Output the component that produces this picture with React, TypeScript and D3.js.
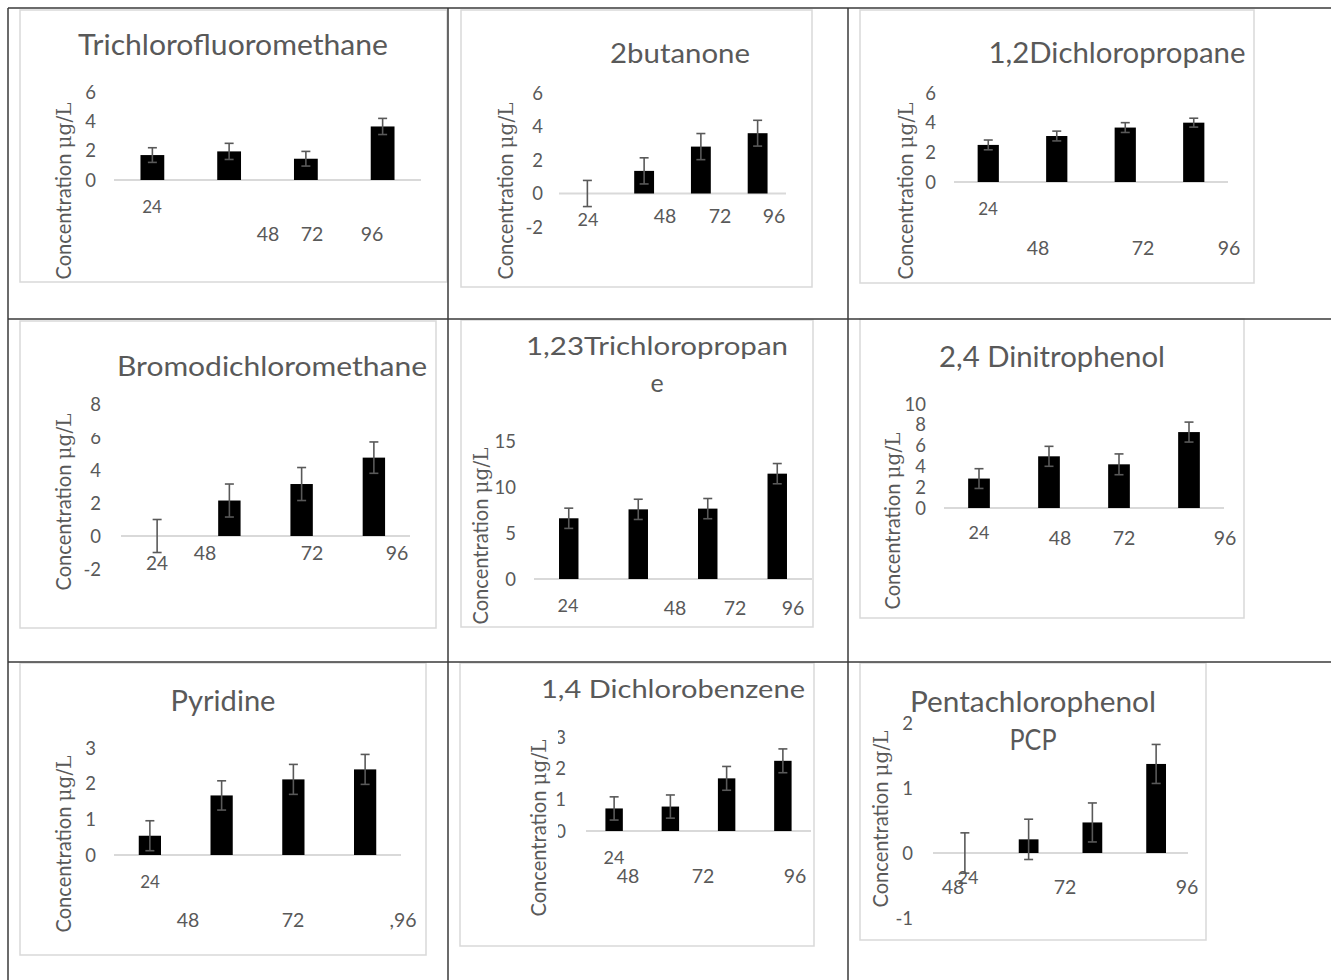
import React from "react";
import * as d3 from "d3";

// sampling times (h)
const hours = ["24", "48", "72", "96"];
const pyridineLabels = ["24", "48", "72", ",96"];

// mean concentrations and error bars
const trichlorofluoromethane = [1.7, 1.95, 1.45, 3.65];
const trichlorofluoromethaneErr = [0.5, 0.55, 0.5, 0.55];
const butanone = [0, 1.35, 2.8, 3.6];
const butanoneErr = [0.78, 0.78, 0.78, 0.77];
const dichloropropane = [2.5, 3.1, 3.67, 4.0];
const dichloropropaneErr = [0.33, 0.33, 0.33, 0.3];
const bromodichloromethane = [0, 2.15, 3.15, 4.75];
const bromodichloromethaneErr = [1.0, 1.0, 1.0, 0.95];
const trichloropropane = [6.6, 7.57, 7.65, 11.45];
const trichloropropaneErr = [1.1, 1.1, 1.1, 1.1];
const dinitrophenol = [2.83, 4.97, 4.2, 7.3];
const dinitrophenolErr = [0.95, 0.96, 1.0, 0.96];
const pyridine = [0.54, 1.67, 2.12, 2.4];
const pyridineErr = [0.42, 0.41, 0.42, 0.42];
const dichlorobenzene = [0.72, 0.78, 1.68, 2.24];
const dichlorobenzeneErr = [0.37, 0.37, 0.38, 0.38];
const pentachlorophenol = [0, 0.21, 0.47, 1.37];
const pentachlorophenolErr = [0.31, 0.31, 0.3, 0.3];

// y tick labels
const ticks0to6 = [0, 2, 4, 6];
const ticksNeg2to6 = [-2, 0, 2, 4, 6];
const ticksNeg2to8 = [-2, 0, 2, 4, 6, 8];
const ticks0to15 = [0, 5, 10, 15];
const ticks0to10 = [0, 2, 4, 6, 8, 10];
const ticks0to3 = [0, 1, 2, 3];
const ticksNeg1to2 = [-1, 0, 1, 2];

const GREY = "#595959";
const FONT = "Lato, 'Open Sans', sans-serif";

// layout of each panel on the page (frame, title, plot area, labels)
const panels = [
  {
    title: ["Trichlorofluoromethane"], tx: 233, ty: 55, tSize: 28, tLen: [310],
    frame: [20, 10, 427, 272], values: trichlorofluoromethane, errs: trichlorofluoromethaneErr,
    ticks: ticks0to6, yRange: [180, 92], xRange: [114, 421], pad: 0.69, tickX: 96,
    yTitle: [63, 191], labels: hours,
    labelPos: [[152, 207, 17], [268, 234, 19.5], [312, 234, 19.5], [372, 234, 19.5]],
  },
  {
    title: ["2butanone"], tx: 680, ty: 63, tSize: 27, tLen: [140],
    frame: [461, 10, 351, 277], values: butanone, errs: butanoneErr,
    ticks: ticksNeg2to6, yRange: [227, 93], xRange: [559, 786], pad: 0.65, tickX: 543,
    yTitle: [505, 191], labels: hours,
    labelPos: [[588, 220, 18], [665, 216, 19.5], [720, 216, 19.5], [774, 216, 19.5]],
  },
  {
    title: ["1,2Dichloropropane"], tx: 1117, ty: 63, tSize: 28, tLen: [257],
    frame: [860, 10, 394, 273], values: dichloropropane, errs: dichloropropaneErr,
    ticks: ticks0to6, yRange: [182, 93], xRange: [954, 1228], pad: 0.69, tickX: 936,
    yTitle: [905, 191], labels: hours,
    labelPos: [[988, 209, 17], [1038, 248, 19.5], [1143, 248, 19.5], [1229, 248, 19.5]],
  },
  {
    title: ["Bromodichloromethane"], tx: 272, ty: 376, tSize: 26, tLen: [310],
    frame: [20, 321, 416, 307], values: bromodichloromethane, errs: bromodichloromethaneErr,
    ticks: ticksNeg2to8, yRange: [569, 404], xRange: [121, 410], pad: 0.69, tickX: 101,
    yTitle: [63, 502], labels: hours,
    labelPos: [[157, 563, 19], [205, 553, 19.5], [312, 553, 19.5], [397, 553, 19.5]],
    covers: [[84, 422, 20, 11]],
  },
  {
    title: ["1,23Trichloropropan", "e"], tx: 657, ty: 355, tSize: 25, tLen: [262], lineGap: 37,
    frame: [461, 320, 352, 307], values: trichloropropane, errs: trichloropropaneErr,
    ticks: ticks0to15, yRange: [579, 441], xRange: [534, 812], pad: 0.72, tickX: 516,
    yTitle: [480, 536], labels: hours,
    labelPos: [[568, 606, 18], [675, 608, 19.5], [735, 608, 19.5], [793, 608, 19.5]],
  },
  {
    title: ["2,4 Dinitrophenol"], tx: 1052, ty: 367, tSize: 28, tLen: [226],
    frame: [860, 319, 384, 299], values: dinitrophenol, errs: dinitrophenolErr,
    ticks: ticks0to10, yRange: [508, 404], xRange: [944, 1224], pad: 0.69, tickX: 926,
    yTitle: [892, 521], labels: hours,
    labelPos: [[979, 533, 18], [1060, 538, 19.5], [1124, 538, 19.5], [1225, 538, 19.5]],
  },
  {
    title: ["Pyridine"], tx: 223, ty: 711, tSize: 28, tLen: [105],
    frame: [20, 663, 406, 292], values: pyridine, errs: pyridineErr,
    ticks: ticks0to3, yRange: [855, 748], xRange: [114, 401], pad: 0.69, tickX: 96,
    yTitle: [63, 844], labels: pyridineLabels,
    labelPos: [[150, 882, 17], [188, 920, 19.5], [293, 920, 19.5], [403, 920, 19.5]],
  },
  {
    title: ["1,4 Dichlorobenzene"], tx: 673, ty: 698, tSize: 25, tLen: [264],
    frame: [460, 663, 354, 283], values: dichlorobenzene, errs: dichlorobenzeneErr,
    ticks: ticks0to3, yRange: [831, 737], xRange: [586, 811], pad: 0.69, tickX: 566,
    yTitle: [538, 828], labels: hours,
    labelPos: [[614, 858, 18], [628, 876, 19.5], [703, 876, 19.5], [795, 876, 19.5]],
    covers: [[549, 726, 9, 22], [549, 820, 9, 22]],
  },
  {
    title: ["Pentachlorophenol", "PCP"], tx: 1033, ty: 712, tSize: 28, tLen: [246, 47], lineGap: 38,
    frame: [860, 663, 346, 277], values: pentachlorophenol, errs: pentachlorophenolErr,
    ticks: ticksNeg1to2, yRange: [918, 723], xRange: [933, 1188], pad: 0.69, tickX: 913,
    yTitle: [880, 819], labels: hours,
    labelPos: [[968, 878, 18], [953, 887, 19.5], [1065, 887, 19.5], [1187, 887, 19.5]],
  },
];

function Panel({ p }) {
  const y = d3
    .scaleLinear()
    .domain([p.ticks[0], p.ticks[p.ticks.length - 1]])
    .range(p.yRange);
  const x = d3
    .scaleBand()
    .domain(hours)
    .range(p.xRange)
    .paddingInner(p.pad)
    .paddingOuter(p.pad / 2);
  const bw = x.bandwidth();
  const capW = 4.5;
  const [fx, fy, fw, fh] = p.frame;

  return (
    <g>
      <rect x={fx} y={fy} width={fw} height={fh} fill="#fff" stroke="#d9d9d9" strokeWidth={1.5} />

      {/* title */}
      {p.title.map((t, i) => (
        <text
          key={t}
          x={p.tx}
          y={p.ty + i * (p.lineGap || 0)}
          textAnchor="middle"
          fontSize={p.tSize}
          fill={GREY}
          fontFamily={FONT}
          textLength={p.tLen[i]}
          lengthAdjust="spacingAndGlyphs"
        >
          {t}
        </text>
      ))}

      {/* y tick labels */}
      {p.ticks.map((t) => (
        <text
          key={t}
          x={p.tickX}
          y={y(t)}
          dy="0.36em"
          textAnchor="end"
          fontSize={18.5}
          fill={GREY}
          fontFamily={FONT}
        >
          {t}
        </text>
      ))}

      {/* bits of the scan where labels were cut off */}
      {(p.covers || []).map((c, i) => (
        <rect key={"cv" + i} x={c[0]} y={c[1]} width={c[2]} height={c[3]} fill="#fff" />
      ))}

      {/* y axis title */}
      <text
        transform={`translate(${p.yTitle[0]},${p.yTitle[1]}) rotate(-90)`}
        textAnchor="middle"
        dy="0.36em"
        fontSize={21}
        fill={GREY}
        fontFamily={FONT}
        textLength={177}
        lengthAdjust="spacingAndGlyphs"
      >
        Concentration <tspan fontFamily="'DejaVu Serif', serif">μg/L</tspan>
      </text>

      {/* baseline at zero */}
      <line x1={p.xRange[0]} x2={p.xRange[1]} y1={y(0)} y2={y(0)} stroke="#d9d9d9" strokeWidth={2} />

      {/* bars */}
      {p.values.map((v, i) => (
        <rect
          key={i}
          x={x(hours[i])}
          y={y(Math.max(0, v))}
          width={bw}
          height={Math.abs(y(v) - y(0))}
          fill="#000"
        />
      ))}

      {/* error bars */}
      {p.values.map((v, i) => {
        const cx = x(hours[i]) + bw / 2;
        const top = y(v + p.errs[i]);
        const bot = y(v - p.errs[i]);
        return (
          <g key={i} stroke={GREY} strokeWidth={1.6}>
            <line x1={cx} x2={cx} y1={top} y2={bot} />
            <line x1={cx - capW} x2={cx + capW} y1={top} y2={top} />
            <line x1={cx - capW} x2={cx + capW} y1={bot} y2={bot} />
          </g>
        );
      })}

      {/* x labels, placed where the original document left them */}
      {p.labels.map((l, i) => (
        <text
          key={l}
          x={p.labelPos[i][0]}
          y={p.labelPos[i][1]}
          dy="0.36em"
          textAnchor="middle"
          fontSize={p.labelPos[i][2]}
          fill={GREY}
          fontFamily={FONT}
        >
          {l}
        </text>
      ))}
    </g>
  );
}

export default function App() {
  const W = 1331;
  const H = 980;
  const rowLines = [8, 319, 662];
  const colLines = [8, 448, 848];

  return (
    <svg
      width={W}
      height={H}
      style={{ position: "absolute", left: 0, top: 0, background: "#fff" }}
    >
      <rect width={W} height={H} fill="#fff" />
      {panels.map((p, i) => (
        <Panel key={i} p={p} />
      ))}
      {rowLines.map((ly) => (
        <line key={"r" + ly} x1={8} x2={W} y1={ly} y2={ly} stroke="#3a3a3a" strokeWidth={1.5} />
      ))}
      {colLines.map((lx) => (
        <line key={"c" + lx} x1={lx} x2={lx} y1={8} y2={H} stroke="#3a3a3a" strokeWidth={1.5} />
      ))}
    </svg>
  );
}
